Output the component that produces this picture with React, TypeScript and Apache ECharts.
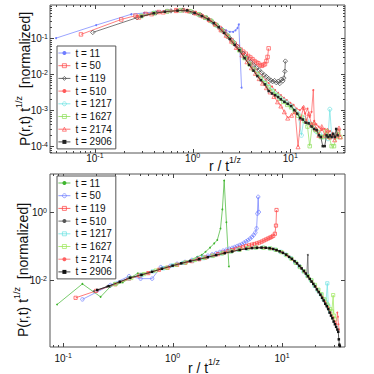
import React, { useEffect, useRef } from 'react';
import * as echarts from 'echarts';

const FONT = 'Liberation Sans, Arial, Helvetica, sans-serif';

const LEGEND_TIMES = ['11', '50', '119', '510', '1217', '1627', '2174', '2906'];

// ---------- top panel data: [r / t^(1/z), P(r,t) t^(1/z)] ----------
const TOP_T11 = [[0.040,0.10],[0.103,0.23],[0.235,0.46],[0.32,0.5],[0.44,0.55],[0.6,0.58],[0.8,0.58],[1.0,0.5],[1.2,0.42],[1.4,0.34],[1.6,0.27],[1.8,0.22],[2.0,0.185],[2.2,0.165],[2.4,0.15],[2.6,0.15],[2.75,0.165],[2.88,0.19],[2.97,0.24],[3.17,0.0042]];
const TOP_T50 = [[0.072,0.127],[0.186,0.33],[0.26,0.42],[0.33,0.47],[0.45,0.53],[0.55,0.56],[0.68,0.6],[0.8,0.6],[0.92,0.56],[1.05,0.5],[1.2,0.43],[1.35,0.37],[1.5,0.31],[1.7,0.24],[1.9,0.19],[2.1,0.15],[2.3,0.11],[2.5,0.088],[2.7,0.07],[2.9,0.058],[3.1,0.048],[3.3,0.042],[3.5,0.037],[3.7,0.032],[3.9,0.029],[4.1,0.026],[4.3,0.023],[4.5,0.021],[4.7,0.02],[4.9,0.018],[5.1,0.017],[5.3,0.018],[5.5,0.019],[5.7,0.023],[5.85,0.03],[6.0,0.052]];
const TOP_T119 = [[0.095,0.144],[0.27,0.37],[0.42,0.5],[0.6,0.57],[0.8,0.6],[1.0,0.52],[1.2,0.44],[1.4,0.36],[1.6,0.28],[1.8,0.22],[2.0,0.17],[2.2,0.13],[2.4,0.1],[2.6,0.08],[2.8,0.062],[3.0,0.05],[3.3,0.038],[3.6,0.028],[3.9,0.022],[4.2,0.018],[4.5,0.015],[4.8,0.013],[5.1,0.011],[5.4,0.0095],[5.7,0.0085],[6.0,0.0075],[6.3,0.0068],[6.6,0.0062],[6.9,0.0066],[7.2,0.0058],[7.5,0.0063],[7.8,0.0055],[8.1,0.0072],[8.4,0.0065],[8.6,0.0078],[8.8,0.012],[8.9,0.023]];
const TOP_T510 = [[0.27,0.4],[0.35,0.47],[0.45,0.53],[0.6,0.58],[0.8,0.6],[1.0,0.53],[1.2,0.44],[1.4,0.36],[1.6,0.29],[1.8,0.22],[2.0,0.17],[2.3,0.12],[2.6,0.08],[3.0,0.05],[3.3,0.036],[3.6,0.028],[4.0,0.02],[4.4,0.014],[4.8,0.011],[5.2,0.0085],[5.6,0.0068],[6.0,0.0056],[6.5,0.0045],[7.0,0.0036],[7.5,0.003],[8.0,0.0026],[8.6,0.0022],[9.2,0.0019],[10,0.0016],[10.8,0.0014],[11.6,0.0011],[12.5,0.001],[13.4,0.0012],[14.2,0.0008],[15.0,0.0011],[15.8,0.00065],[16.5,0.0009],[17.2,0.0036],[17.6,0.0005],[18.5,0.0004],[19.5,0.00035],[21,0.00028],[22.5,0.0003],[24,0.00022],[25.5,0.00026]];
const TOP_T1217 = [[0.3,0.42],[0.4,0.5],[0.55,0.56],[0.75,0.59],[0.95,0.54],[1.15,0.45],[1.35,0.37],[1.55,0.3],[1.75,0.23],[2.0,0.165],[2.3,0.115],[2.6,0.078],[3.0,0.047],[3.4,0.029],[3.8,0.02],[4.2,0.014],[4.6,0.0105],[5.0,0.008],[5.5,0.006],[6.0,0.0046],[6.6,0.0035],[7.2,0.0028],[7.8,0.0023],[8.5,0.0019],[9.3,0.0016],[10.2,0.0013],[11.1,0.001],[12.0,0.0008],[13.0,0.0002],[13.8,0.0006],[14.8,0.0005],[16,0.00042],[17.2,0.00035],[18.5,0.00025],[20,0.00022],[21.5,0.00018],[23,0.0002],[24.3,0.00016],[25.4,0.00106],[26.5,0.0002],[28,0.00018]];
const TOP_T1627 = [[0.3,0.41],[0.4,0.49],[0.55,0.55],[0.75,0.59],[0.95,0.55],[1.15,0.46],[1.35,0.37],[1.55,0.3],[1.75,0.23],[2.0,0.165],[2.3,0.115],[2.6,0.075],[3.0,0.046],[3.4,0.028],[3.8,0.019],[4.2,0.0135],[4.6,0.01],[5.0,0.0075],[5.5,0.0056],[6.0,0.0043],[6.6,0.0033],[7.2,0.0026],[7.8,0.0021],[8.5,0.0017],[9.3,0.0014],[10.2,0.0012],[11.1,0.0009],[12.0,0.0007],[13.0,0.00065],[14.0,0.0005],[15.0,0.00035],[15.8,0.0001],[16.8,0.0004],[18,0.00028],[19.2,0.00025],[20.5,0.00018],[22,0.00018],[23.5,0.00026],[25,0.00018],[26.5,0.0001],[28,0.0001],[29.5,0.00018],[31,0.00025],[32.5,0.00018]];
const TOP_T2174 = [[0.28,0.38],[0.38,0.47],[0.5,0.53],[0.68,0.58],[0.88,0.58],[1.08,0.5],[1.28,0.41],[1.48,0.33],[1.7,0.25],[1.95,0.17],[2.2,0.12],[2.5,0.082],[2.8,0.055],[3.2,0.034],[3.6,0.022],[4.0,0.015],[4.4,0.0105],[4.8,0.0075],[5.2,0.0056],[5.7,0.0042],[6.2,0.0032],[6.8,0.0024],[7.4,0.0017],[8.0,0.0013],[8.7,0.0009],[9.4,0.0006],[10.3,0.00072],[11.2,0.0009],[12,0.000096],[12.8,0.0006],[13.7,0.0012],[14.6,0.0005],[15.5,0.0008],[16.5,0.0004],[17.5,0.00045],[18.5,0.0003],[19.6,0.0002],[21,0.00035],[22.5,0.0002],[24,0.00028],[25.5,0.00018],[27,0.00022],[28.5,0.00015],[30,0.0002],[31.5,0.00032],[32.5,0.00018]];
const TOP_T2906 = [[0.3,0.4],[0.4,0.49],[0.52,0.54],[0.7,0.58],[0.88,0.59],[1.05,0.5],[1.25,0.41],[1.45,0.33],[1.65,0.26],[1.85,0.2],[2.1,0.14],[2.4,0.095],[2.7,0.065],[3.0,0.046],[3.4,0.028],[3.8,0.018],[4.2,0.0125],[4.6,0.0088],[5.0,0.0068],[5.5,0.0052],[6.0,0.0034],[6.5,0.0029],[7.0,0.0026],[7.5,0.0023],[8.0,0.002],[8.7,0.0017],[9.4,0.0015],[10.2,0.0013],[11,0.001],[11.8,0.0008],[12.6,0.0006],[13.4,0.00055],[14.4,0.00045],[15.4,0.00043],[16.5,0.00035],[17.5,0.0003],[18.6,0.00028],[19.6,0.0002],[20.5,0.00018],[21.5,0.0001],[22.5,0.0001],[23.5,0.0002],[24.5,0.00018],[25.5,0.0002],[26.5,0.00018],[27.5,0.00022],[28.5,0.00018],[29.5,0.0003],[30.5,0.0002]];

// ---------- bottom panel data ----------
const BOT_T11 = [[0.088,0.0019],[0.15,0.0077],[0.22,0.0032],[0.27,0.0064],[0.35,0.0085],[0.48,0.0157],[0.6,0.016],[0.75,0.021],[0.9,0.024],[1.05,0.028],[1.25,0.034],[1.45,0.038],[1.68,0.048],[1.85,0.055],[2.0,0.068],[2.2,0.09],[2.4,0.12],[2.56,0.15],[2.74,0.33],[2.85,1.2],[2.96,8.5],[3.1,0.5],[3.27,0.025]];
const BOT_T50 = [[0.15,0.0027],[0.27,0.0071],[0.4,0.013],[0.51,0.011],[0.65,0.011],[0.78,0.024],[0.95,0.026],[1.1,0.03],[1.3,0.034],[1.5,0.039],[1.7,0.043],[1.9,0.048],[2.1,0.052],[2.3,0.057],[2.5,0.062],[2.7,0.067],[2.9,0.073],[3.1,0.078],[3.3,0.083],[3.5,0.088],[3.7,0.094],[3.9,0.1],[4.1,0.107],[4.3,0.115],[4.5,0.125],[4.7,0.137],[4.9,0.15],[5.1,0.165],[5.3,0.185],[5.5,0.21],[5.7,0.25],[5.85,0.33],[5.95,0.9],[6.05,2.8],[6.13,1.0]];
const BOT_T119 = [[0.13,0.003],[0.2,0.0048],[0.3,0.0075],[0.4,0.011],[0.5,0.0135],[0.6,0.016],[0.75,0.02],[0.9,0.023],[1.1,0.028],[1.3,0.032],[1.5,0.036],[1.75,0.041],[2.0,0.046],[2.3,0.052],[2.6,0.058],[2.9,0.064],[3.2,0.07],[3.5,0.076],[3.8,0.082],[4.1,0.088],[4.4,0.094],[4.7,0.1],[5.0,0.105],[5.3,0.11],[5.6,0.115],[5.9,0.12],[6.2,0.127],[6.5,0.135],[6.8,0.145],[7.1,0.155],[7.4,0.165],[7.7,0.175],[8.0,0.185],[8.3,0.2],[8.6,0.23],[8.8,0.4],[8.9,1.15]];
const BOT_T510 = [[0.19,0.0047],[0.25,0.0064],[0.32,0.0085],[0.4,0.0115],[0.5,0.0138],[0.62,0.017],[0.78,0.021],[0.95,0.025],[1.15,0.03],[1.4,0.035],[1.7,0.04],[2.0,0.045],[2.4,0.053],[2.8,0.06],[3.3,0.067],[3.9,0.075],[4.6,0.083],[5.4,0.088],[6.3,0.09],[7.2,0.088],[8.1,0.083],[9.0,0.075],[10,0.066],[11,0.054],[12,0.045],[13,0.035],[14,0.028],[15,0.022],[16,0.017],[16.8,0.014],[17.2,0.055],[17.4,0.012],[18.5,0.0095],[20,0.0066],[21.5,0.0047],[23,0.0033],[24.5,0.0022],[26,0.0015]];
const BOT_T1217 = [[0.3,0.0078],[0.4,0.0112],[0.52,0.014],[0.66,0.018],[0.82,0.022],[1.0,0.027],[1.25,0.032],[1.55,0.038],[1.9,0.044],[2.3,0.051],[2.8,0.06],[3.4,0.069],[4.0,0.077],[4.8,0.085],[5.7,0.09],[6.7,0.09],[7.7,0.086],[8.7,0.078],[9.7,0.068],[10.8,0.056],[12,0.044],[13.2,0.033],[14.4,0.025],[15.7,0.018],[17,0.0135],[18.4,0.0098],[19.8,0.0068],[21.2,0.005],[22.6,0.0038],[24,0.0027],[25.2,0.0022],[25.9,0.008],[26.5,0.0017],[27.5,0.0012]];
const BOT_T1627 = [[0.3,0.0076],[0.42,0.0115],[0.55,0.015],[0.7,0.019],[0.88,0.023],[1.08,0.028],[1.32,0.033],[1.6,0.039],[1.95,0.045],[2.35,0.052],[2.85,0.061],[3.45,0.07],[4.1,0.078],[4.9,0.086],[5.8,0.09],[6.8,0.089],[7.8,0.085],[8.8,0.077],[9.9,0.066],[11,0.054],[12.2,0.042],[13.4,0.032],[14.6,0.024],[15.9,0.018],[17.2,0.013],[18.6,0.0098],[20,0.0072],[21.5,0.0052],[23,0.0038],[24.5,0.0027],[26,0.0019],[27.5,0.0014],[28.5,0.0012],[29.3,0.0036],[29.8,0.0009],[30.5,0.0007]];
const BOT_T2174 = [[0.3,0.0078],[0.38,0.0105],[0.48,0.013],[0.6,0.0165],[0.75,0.02],[0.92,0.024],[1.12,0.029],[1.36,0.034],[1.65,0.04],[2.0,0.046],[2.4,0.053],[2.9,0.062],[3.5,0.07],[4.2,0.079],[5.0,0.086],[5.9,0.09],[6.9,0.089],[7.9,0.084],[8.9,0.076],[10,0.065],[11.2,0.052],[12.4,0.04],[13.6,0.031],[14.8,0.023],[16.1,0.017],[17.4,0.0125],[18.8,0.009],[20.3,0.0063],[21.8,0.0045],[23.3,0.0032],[24.8,0.0023],[26.3,0.0016],[27.8,0.0011],[29.3,0.0008],[30.5,0.0006],[31.5,0.0005],[32.0,0.0011],[32.4,0.00083],[32.8,0.0005],[33.2,0.00035]];
const BOT_T2906 = [[0.205,0.0051],[0.26,0.0066],[0.33,0.0089],[0.41,0.0117],[0.52,0.0142],[0.65,0.0175],[0.8,0.0215],[1.0,0.0265],[1.2,0.031],[1.45,0.036],[1.75,0.041],[2.1,0.047],[2.5,0.054],[3.0,0.062],[3.5,0.069],[4.1,0.077],[4.7,0.083],[5.3,0.087],[5.9,0.089],[6.5,0.09],[7.1,0.089],[7.7,0.086],[8.3,0.082],[8.9,0.076],[9.5,0.07],[10.2,0.063],[10.9,0.056],[11.6,0.048],[12.3,0.042],[13,0.036],[13.7,0.031],[14.4,0.026],[15.1,0.022],[15.8,0.0185],[16.5,0.0155],[17.2,0.013],[17.9,0.0108],[18.6,0.009],[19.3,0.0077],[20,0.0065],[20.8,0.0053],[21.6,0.0044],[22.4,0.0037],[23.2,0.003],[24,0.0025],[24.8,0.002],[25.6,0.0017],[26.4,0.0014],[27.2,0.0011],[28,0.0009],[28.8,0.00075],[29.6,0.0006],[30.4,0.0005],[31.2,0.00042],[32,0.00035],[32.6,0.0003],[33.0,0.00018],[33.4,0.000125],[33.7,0.000115]];

const TOP_DATA = [TOP_T11, TOP_T50, TOP_T119, TOP_T510, TOP_T1217, TOP_T1627, TOP_T2174, TOP_T2906];
const BOT_DATA = [BOT_T11, BOT_T50, BOT_T119, BOT_T510, BOT_T1217, BOT_T1627, BOT_T2174, BOT_T2906];

// axis ranges (log10 units)
const TOP_X = [-1.46, 1.56];
const TOP_Y = [-4.19, -0.08];
const BOT_X = [-1.12, 1.575];
const BOT_Y = [-3.97, 1.12];

// open: hollow marker (transparent face, coloured edge)
const TOP_STYLE = [
  { color: '#6f7dff', symbol: 'circle', size: 2, open: false },
  { color: '#ff4a4a', symbol: 'rect', size: 3.5, open: true },
  { color: '#444444', symbol: 'diamond', size: 4.5, open: true },
  { color: '#ff5a5a', symbol: 'circle', size: 2, open: false },
  { color: '#6fe3e3', symbol: 'circle', size: 4, open: true },
  { color: '#8ee05a', symbol: 'rect', size: 3.5, open: true },
  { color: '#ff5050', symbol: 'triangle', size: 4, open: true },
  { color: '#222222', symbol: 'rect', size: 2.5, open: false },
];
const BOT_STYLE = [
  { color: '#3fb52e', symbol: 'circle', size: 1.8, open: false },
  { color: '#6f7dff', symbol: 'circle', size: 3.5, open: true },
  { color: '#ff4040', symbol: 'rect', size: 3.2, open: true },
  { color: '#555555', symbol: 'circle', size: 1.8, open: false },
  { color: '#6fe3e3', symbol: 'rect', size: 3.2, open: true },
  { color: '#9ee85a', symbol: 'rect', size: 3.2, open: true },
  { color: '#ff6060', symbol: 'circle', size: 1.8, open: false },
  { color: '#111111', symbol: 'rect', size: 2.5, open: false },
];

const toLog = (d: number[][]) => d.map(([x, y]) => [Math.log10(x), Math.log10(y)]);

const supLabel = (v: number) => {
  const r = Math.round(v);
  return Math.abs(v - r) < 1e-6 ? `{b|10}{s|${r}}` : '';
};

const labelRich = {
  b: { fontSize: 10, lineHeight: 11, verticalAlign: 'bottom', fontFamily: FONT, color: '#111' },
  s: { fontSize: 7, lineHeight: 7, verticalAlign: 'top', fontFamily: FONT, color: '#111' },
};

function tickItems(xr: number[], yr: number[], xMinor: boolean, yMinor: boolean) {
  const items: number[][] = [];
  for (let n = Math.floor(xr[0]); n <= Math.ceil(xr[1]); n++) {
    if (n > xr[0] && n < xr[1]) items.push([n, yr[0], 0, 4]);
    if (xMinor) for (let k = 2; k <= 9; k++) {
      const v = n + Math.log10(k);
      if (v > xr[0] && v < xr[1]) items.push([v, yr[0], 0, 2]);
    }
  }
  for (let n = Math.floor(yr[0]); n <= Math.ceil(yr[1]); n++) {
    if (n > yr[0] && n < yr[1] && (yMinor || n % 2 === 0)) items.push([xr[0], n, 1, 4]);
    if (yMinor) for (let k = 2; k <= 9; k++) {
      const v = n + Math.log10(k);
      if (v > yr[0] && v < yr[1]) items.push([xr[0], v, 1, 2]);
    }
  }
  return items;
}

const renderTick = (params: any, api: any) => {
  const cs = params.coordSys;
  const kind = api.value(2);
  const len = api.value(3);
  const p = api.coord([api.value(0), api.value(1)]);
  const st = { stroke: '#444', lineWidth: 1 };
  if (kind === 0) {
    const x = Math.round(p[0]) + 0.5;
    return {
      type: 'group',
      children: [
        { type: 'line', shape: { x1: x, y1: cs.y + cs.height, x2: x, y2: cs.y + cs.height - len }, style: st },
        { type: 'line', shape: { x1: x, y1: cs.y, x2: x, y2: cs.y + len }, style: st },
      ],
    };
  }
  const y = Math.round(p[1]) + 0.5;
  return {
    type: 'group',
    children: [
      { type: 'line', shape: { x1: cs.x, y1: y, x2: cs.x + len, y2: y }, style: st },
      { type: 'line', shape: { x1: cs.x + cs.width, y1: y, x2: cs.x + cs.width - len, y2: y }, style: st },
    ],
  };
};

const markerStyle = (s: any) =>
  s.open
    ? { color: 'rgba(255,255,255,0)', borderColor: s.color, borderWidth: 0.7 }
    : { color: s.color, borderColor: s.color, borderWidth: 0 };

function makeSeries(prefix: string, data: number[][][], styles: any[], gi: number) {
  return data.map((d, i) => ({
    name: `${prefix}|t = ${LEGEND_TIMES[i]}`,
    type: 'line',
    xAxisIndex: gi,
    yAxisIndex: gi,
    data: toLog(d),
    symbol: styles[i].symbol,
    symbolSize: styles[i].size,
    showAllSymbol: true,
    lineStyle: { width: 0.7, color: styles[i].color },
    itemStyle: markerStyle(styles[i]),
    z: 3 + i,
  }));
}

function buildOption() {
  const legendBase = (top: number, prefix: string, styles: any[]) => ({
    orient: 'vertical',
    left: 57,
    top,
    data: LEGEND_TIMES.map((t, i) => ({ name: `${prefix}|t = ${t}`, itemStyle: markerStyle(styles[i]) })),
    formatter: (n: string) => n.split('|')[1],
    backgroundColor: '#fff',
    borderColor: '#555',
    borderWidth: 1,
    padding: [1, 4, 1, 1],
    itemWidth: 12,
    itemHeight: 5,
    itemGap: 0.7,
    lineStyle: { width: 0.8 },
    selectedMode: false,
    textStyle: { fontSize: 10, lineHeight: 12, fontFamily: FONT, color: '#111' },
    z: 20,
  });

  const nameRich = {
    a: { fontSize: 14, lineHeight: 17, verticalAlign: 'bottom', fontFamily: FONT, fill: '#111' },
    s: { fontSize: 9, lineHeight: 9, verticalAlign: 'top', fontFamily: FONT, fill: '#111' },
  };

  const axisCommon = { type: 'value', axisLine: { show: false }, axisTick: { show: false }, splitLine: { show: false } };

  return {
    animation: false,
    backgroundColor: '#fff',
    grid: [
      { left: 50, top: 5, width: 295, height: 148, show: true, borderColor: '#555', borderWidth: 1, backgroundColor: 'transparent' },
      { left: 50, top: 174, width: 295, height: 173, show: true, borderColor: '#555', borderWidth: 1, backgroundColor: 'transparent' },
    ],
    xAxis: [
      { ...axisCommon, gridIndex: 0, min: TOP_X[0], max: TOP_X[1], minInterval: 1, maxInterval: 1,
        axisLabel: { formatter: supLabel, rich: labelRich, margin: -1 } },
      { ...axisCommon, gridIndex: 1, min: BOT_X[0], max: BOT_X[1], minInterval: 1, maxInterval: 1,
        axisLabel: { formatter: supLabel, rich: labelRich, margin: 5 } },
    ],
    yAxis: [
      { ...axisCommon, gridIndex: 0, min: TOP_Y[0], max: TOP_Y[1], minInterval: 1, maxInterval: 1,
        axisLabel: { formatter: supLabel, rich: labelRich, margin: 2 } },
      { ...axisCommon, gridIndex: 1, min: BOT_Y[0], max: BOT_Y[1], minInterval: 2, maxInterval: 2,
        axisLabel: { formatter: supLabel, rich: labelRich, margin: 3 } },
    ],
    legend: [legendBase(46, 'A', TOP_STYLE), legendBase(176, 'B', BOT_STYLE)],
    graphic: [
      { type: 'text', x: 225, y: 164, style: { text: '{a|r / t}{s|1/z}', rich: nameRich, align: 'center', verticalAlign: 'middle', fill: '#111' } },
      { type: 'text', x: 204, y: 366, style: { text: '{a|r / t}{s|1/z}', rich: nameRich, align: 'center', verticalAlign: 'middle', fill: '#111' } },
      { type: 'text', x: 23, y: 79, rotation: Math.PI / 2, style: { text: '{a|P(r,t) t}{s|1/z}{a|  [normalized]}', rich: nameRich, align: 'center', verticalAlign: 'middle', fill: '#111' } },
      { type: 'text', x: 21, y: 270, rotation: Math.PI / 2, style: { text: '{a|P(r,t) t}{s|1/z}{a|  [normalized]}', rich: nameRich, align: 'center', verticalAlign: 'middle', fill: '#111' } },
    ],
    series: [
      { type: 'custom', name: 'ticksTop', xAxisIndex: 0, yAxisIndex: 0, silent: true, z: 1,
        data: tickItems(TOP_X, TOP_Y, true, true), renderItem: renderTick, encode: { x: 0, y: 1 } },
      { type: 'custom', name: 'ticksBot', xAxisIndex: 1, yAxisIndex: 1, silent: true, z: 1,
        data: tickItems(BOT_X, BOT_Y, true, false), renderItem: renderTick, encode: { x: 0, y: 1 } },
      ...makeSeries('A', TOP_DATA, TOP_STYLE, 0),
      ...makeSeries('B', BOT_DATA, BOT_STYLE, 1),
    ],
  };
}

export default function App() {
  const ref = useRef<HTMLDivElement>(null);
  useEffect(() => {
    const chart = echarts.init(ref.current as HTMLDivElement, undefined, { renderer: 'svg' });
    chart.setOption(buildOption() as any);
    return () => chart.dispose();
  }, []);
  return <div ref={ref} style={{ position: 'absolute', left: 0, top: 0, width: 374, height: 374, background: '#fff' }} />;
}
